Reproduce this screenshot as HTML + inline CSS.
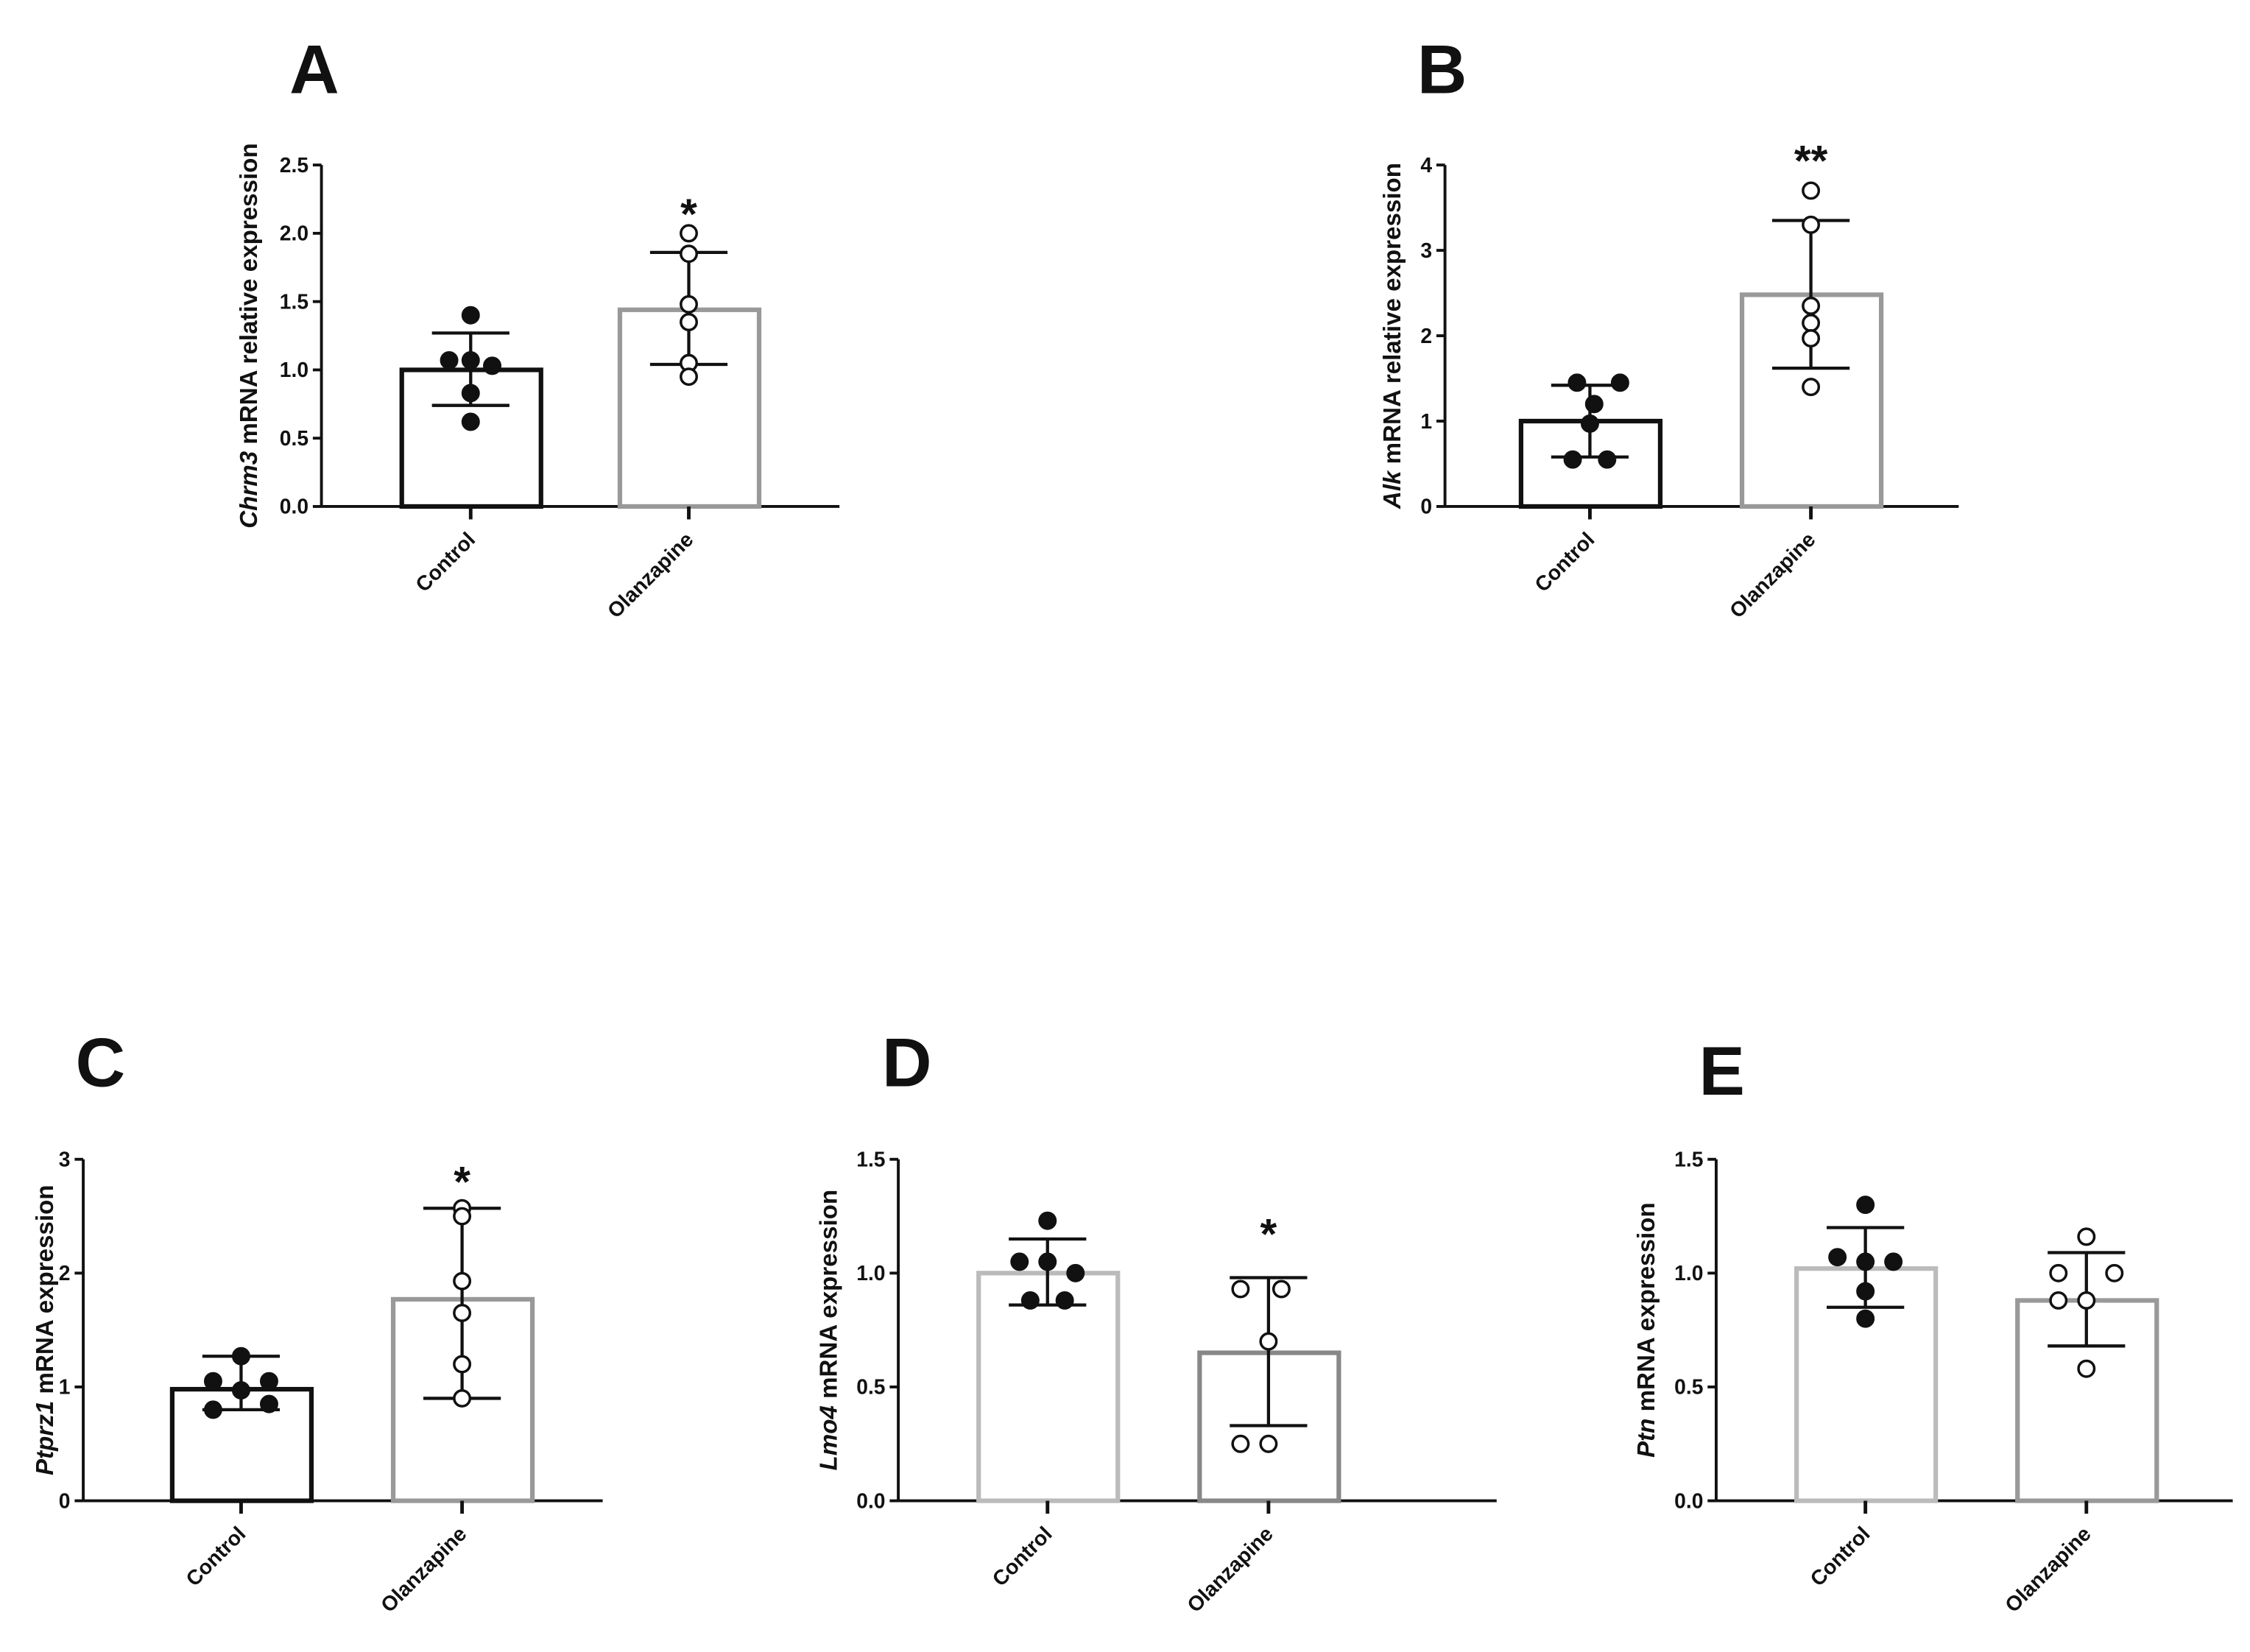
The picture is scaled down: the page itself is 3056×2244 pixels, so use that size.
<!DOCTYPE html>
<html><head><meta charset="utf-8"><style>
html,body{margin:0;padding:0;background:#fff}
svg{display:block}
text{font-family:"Liberation Sans",Arial,sans-serif;font-weight:bold;fill:#111}
</style></head><body>
<svg id="fig" width="3056" height="2244" viewBox="0 0 1568 1151.4" xmlns="http://www.w3.org/2000/svg"></svg>
<script>
// ---- data ----
const categories = ["Control","Olanzapine"];
const aControl = [1.4,1.07,1.07,1.03,0.83,0.62];
const aOlanz = [2.0,1.85,1.48,1.35,1.05,0.95];
const aMeans = [1.0,1.44];
const aErrHi = [1.27,1.86];
const aErrLo = [0.74,1.04];
const bControl = [1.45,1.45,1.2,0.97,0.55,0.55];
const bOlanz = [3.7,3.3,2.35,2.15,1.97,1.4];
const bMeans = [1.0,2.48];
const bErrHi = [1.42,3.35];
const bErrLo = [0.58,1.62];
const cControl = [1.27,1.05,1.05,0.97,0.8,0.85];
const cOlanz = [2.57,2.5,1.93,1.65,1.2,0.9];
const cMeans = [0.98,1.77];
const cErrHi = [1.27,2.57];
const cErrLo = [0.8,0.9];
const dControl = [1.23,1.05,1.05,1.0,0.88,0.88];
const dOlanz = [0.93,0.93,0.7,0.25,0.25];
const dMeans = [1.0,0.65];
const dErrHi = [1.15,0.98];
const dErrLo = [0.86,0.33];
const eControl = [1.3,1.07,1.05,1.05,0.92,0.8];
const eOlanz = [1.16,1.0,1.0,0.88,0.88,0.58];
const eMeans = [1.02,0.88];
const eErrHi = [1.2,1.09];
const eErrLo = [0.85,0.68];
const aTicks = ["0.0","0.5","1.0","1.5","2.0","2.5"];
const bTicks = ["0","1","2","3","4"];
const cTicks = ["0","1","2","3"];
const dTicks = ["0.0","0.5","1.0","1.5"];
const eTicks = ["0.0","0.5","1.0","1.5"];
// horizontal scatter slots (layout only)
const aJit=[[0,-1,0,1,0,0],[0,0,0,0,0,0]];
const bJit=[[-0.6,1.4,0.2,0,-0.8,0.8],[0,0,0,0,0,0]];
const cJit=[[0,-1.3,1.3,0,-1.3,1.3],[0,0,0,0,0,0]];
const dJit=[[0,-1.3,0,1.3,-0.8,0.8],[-1.3,0.6,0,-1.3,0]];
const eJit=[[0,-1.3,0,1.3,0,0],[0,-1.3,1.3,-1.3,0,0]];

const NS="http://www.w3.org/2000/svg";
const svg=document.getElementById('fig');
function mk(tag,attrs,parent){const e=document.createElementNS(NS,tag);for(const k in attrs)e.setAttribute(k,attrs[k]);(parent||svg).appendChild(e);return e;}

function panel(p){
  const g=mk('g',{});
  
  
  const y=v=>p.y0-(v/p.max)*(p.y0-p.y1);
  const L=mk('text',{x:p.lx,y:p.ly,'font-size':48,'text-anchor':'middle'},g);L.textContent=p.letter;
  
  
  const ya=mk('line',{x1:p.x0,y1:p.y1,x2:p.x0,y2:p.y0,stroke:'#111','stroke-width':2},g);
  
  
  const xa=mk('line',{x1:p.x0,y1:p.y0,x2:p.xe,y2:p.y0,stroke:'#111','stroke-width':2},g);
  
  
  const step=p.max/(p.ticks.length-1);
  p.ticks.forEach((t,i)=>{
    const yy=y(i*step);
    mk('line',{x1:p.x0-6,y1:yy,x2:p.x0,y2:yy,stroke:'#111','stroke-width':2},g);
    const tt=mk('text',{x:p.x0-9,y:yy+5,'font-size':14.5,'text-anchor':'end'},g);tt.textContent=t;
    
    
  });
  const tl=mk('text',{transform:`translate(${p.tx},${(p.y0+p.y1)/2}) rotate(-90)`,'font-size':17,'text-anchor':'middle'},g);
  tl.innerHTML=`<tspan font-style="italic">${p.gene}</tspan> ${p.title}`;
  
  
  const groups=[p.ctrl,p.olz];
  p.cx.forEach((cx,i)=>{
    const b=mk('rect',{x:cx-48,y:y(p.means[i]),width:97,height:p.y0-y(p.means[i]),fill:'none',stroke:p.colors[i],'stroke-width':3.2},g);
    
    
    mk('line',{x1:cx,y1:p.y0,x2:cx,y2:p.y0+9,stroke:'#111','stroke-width':2.5},g);
    const cl=mk('text',{transform:`translate(${cx+4},${p.y0+24}) rotate(-45)`,'font-size':14.5,'text-anchor':'end'},g);
    cl.textContent=categories[i];
    
    
    const eb=mk('g',{stroke:'#111','stroke-width':2.2},g);
    
    
    mk('line',{x1:cx,y1:y(p.hi[i]),x2:cx,y2:y(p.lo[i])},eb);
    mk('line',{x1:cx-27,y1:y(p.hi[i]),x2:cx+27,y2:y(p.hi[i])},eb);
    mk('line',{x1:cx-27,y1:y(p.lo[i]),x2:cx+27,y2:y(p.lo[i])},eb);
    groups[i].forEach((v,k)=>{
      const dx=(p.jit[i][k]||0)*15;
      const c=mk('circle',{cx:cx+dx,cy:y(v),r:5.5,fill:i==0?'#111':'#fff',stroke:'#111','stroke-width':1.8},g);
      
      
    });
    if(i==1&&p.sig){
      const s=mk('text',{x:cx,y:y(p.sigY)+18,'font-size':30,'text-anchor':'middle','font-weight':'normal'},g);
      s.textContent=p.sig;
      
      
    }
  });
}
panel({letter:'A',lx:219,ly:65,x0:224,xe:585,y0:353,y1:115,max:2.5,ticks:aTicks,tx:179,gene:'Chrm3',title:'mRNA relative expression',cx:[328,480],means:aMeans,hi:aErrHi,lo:aErrLo,ctrl:aControl,olz:aOlanz,jit:aJit,colors:['#111','#999'],sig:'*',sigY:2.22});
panel({letter:'B',lx:1005,ly:65,x0:1007,xe:1365,y0:353,y1:115,max:4,ticks:bTicks,tx:976,gene:'Alk',title:'mRNA relative expression',cx:[1108,1262],means:bMeans,hi:bErrHi,lo:bErrLo,ctrl:bControl,olz:bOlanz,jit:bJit,colors:['#111','#999'],sig:'**',sigY:4.18});
panel({letter:'C',lx:70,ly:757,x0:58,xe:420,y0:1046,y1:808,max:3,ticks:cTicks,tx:37,gene:'Ptprz1',title:'mRNA expression',cx:[168,322],means:cMeans,hi:cErrHi,lo:cErrLo,ctrl:cControl,olz:cOlanz,jit:cJit,colors:['#111','#999'],sig:'*',sigY:2.9});
panel({letter:'D',lx:632,ly:757,x0:626,xe:1043,y0:1046,y1:808,max:1.5,ticks:dTicks,tx:583,gene:'Lmo4',title:'mRNA expression',cx:[730,884],means:dMeans,hi:dErrHi,lo:dErrLo,ctrl:dControl,olz:dOlanz,jit:dJit,colors:['#bbb','#888'],sig:'*',sigY:1.22});
panel({letter:'E',lx:1200,ly:763,x0:1196,xe:1556,y0:1046,y1:808,max:1.5,ticks:eTicks,tx:1153,gene:'Ptn',title:'mRNA expression',cx:[1300,1454],means:eMeans,hi:eErrHi,lo:eErrLo,ctrl:eControl,olz:eOlanz,jit:eJit,colors:['#bbb','#999'],sig:'',sigY:0});
</script>
</body></html>
